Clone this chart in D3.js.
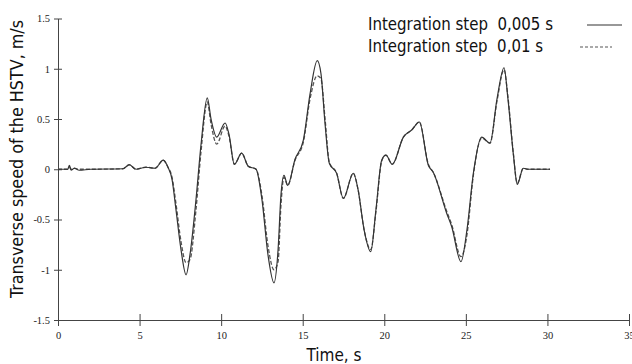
<!DOCTYPE html>
<html>
<head>
<meta charset="utf-8">
<script src="https://cdn.jsdelivr.net/npm/d3@7"></script>
<style>
  body { margin: 0; background: #fff; }
  .tick text { font-family: "Liberation Serif", "DejaVu Serif", serif; font-size: 10.5px; fill: #222; }
  .ttl { font-family: "DejaVu Sans Condensed", "Liberation Sans Narrow", "Roboto", sans-serif; fill: #111; white-space: pre; }
</style>
</head>
<body>
<svg class="chart" width="632" height="364"></svg>
<script>
// time, s
const time = [0, 0.6, 0.7, 0.8, 1.0, 1.3, 2.0, 3.98, 4.37, 4.78, 5.39, 5.95, 6.45, 6.74, 6.99, 7.23, 7.54, 7.85, 8.09, 8.46, 8.77, 9.15, 9.38, 9.73, 10.24, 10.48, 10.81, 11.26, 11.66, 12.14, 12.5, 12.87, 13.24, 13.49, 13.67, 13.85, 14.08, 14.53, 15.04, 15.45, 15.89, 16.12, 16.37, 16.63, 17.08, 17.49, 18.1, 18.39, 18.76, 19.17, 19.49, 19.84, 20.1, 20.49, 21.17, 21.68, 22.15, 22.7, 23.0, 23.83, 24.13, 24.7, 25.07, 25.46, 25.97, 26.48, 26.91, 27.34, 27.58, 27.91, 28.15, 28.52, 28.8, 30.16];
// transverse speed, integration step 0,005 s
const speedFine = [0, 0, 0.04, -0.01, 0.01, -0.01, 0, 0.005, 0.045, 0.0, 0.02, 0.01, 0.09, 0.02, -0.1, -0.4, -0.8, -1.05, -0.85, -0.3, 0.25, 0.71, 0.5, 0.32, 0.46, 0.35, 0.05, 0.16, 0.03, 0.0, -0.3, -0.85, -1.13, -0.8, -0.25, -0.06, -0.16, 0.1, 0.29, 0.75, 1.08, 0.95, 0.45, 0.06, -0.04, -0.29, -0.04, -0.2, -0.6, -0.82, -0.4, 0.09, 0.14, 0.05, 0.32, 0.39, 0.47, 0.04, -0.03, -0.44, -0.57, -0.92, -0.6, -0.04, 0.32, 0.26, 0.7, 1.01, 0.7, 0.15, -0.15, 0.01, 0.0, 0.0];
// transverse speed, integration step 0,01 s
const speedCoarse = [0, 0, 0.02, 0.0, 0.01, 0.0, 0, 0.005, 0.045, 0.0, 0.02, 0.01, 0.09, 0.02, -0.08, -0.34, -0.72, -0.93, -0.9, -0.4, 0.18, 0.67, 0.45, 0.25, 0.43, 0.33, 0.05, 0.16, 0.03, 0.0, -0.26, -0.76, -1.0, -0.92, -0.35, -0.08, -0.16, 0.09, 0.27, 0.7, 0.93, 0.9, 0.5, 0.07, -0.04, -0.29, -0.04, -0.2, -0.6, -0.8, -0.42, 0.08, 0.14, 0.05, 0.32, 0.39, 0.47, 0.05, -0.03, -0.42, -0.55, -0.87, -0.65, -0.06, 0.31, 0.26, 0.68, 0.99, 0.72, 0.16, -0.14, 0.01, 0.0, 0.0];
const xTicks = [0, 5, 10, 15, 20, 25, 30, 35];
const yTicks = [-1.5, -1, -0.5, 0, 0.5, 1, 1.5];
const legendLabels = ['Integration step  0,005 s', 'Integration step  0,01 s'];

const svg = d3.select('.chart');
const margin = {left: 58, right: 3, top: 18.5, bottom: 44};
const width = 632, height = 364;

const xScale = d3.scaleLinear().domain([0, 35]).range([margin.left, width - margin.right]);
const yScale = d3.scaleLinear().domain([-1.5, 1.5]).range([height - margin.bottom, margin.top]);

const xAxis = svg.append('g')
    .attr('transform', `translate(0,${yScale(-1.5)})`)
    .call(d3.axisBottom(xScale).tickValues(xTicks).tickFormat(d3.format('d')).tickSize(6).tickSizeOuter(0));
xAxis.selectAll('.tick line').attr('y1', -6).attr('y2', 6);
xAxis.selectAll('.tick text').attr('y', 12);

const yAxis = svg.append('g')
    .attr('transform', `translate(${xScale(0)},0)`)
    .call(d3.axisLeft(yScale).tickValues(yTicks).tickFormat(d => d).tickSize(4).tickSizeOuter(0));
yAxis.selectAll('.tick line').attr('x1', -4).attr('x2', 4);
yAxis.selectAll('.tick text').attr('x', -8);

svg.selectAll('.domain, .tick line').attr('stroke', '#444').attr('stroke-width', 1);

const line = (vals) => d3.line()
    .x((d, i) => xScale(time[i]))
    .y(d => yScale(d))
    .curve(d3.curveMonotoneX)(vals);

svg.append('path')
    .attr('d', line(speedCoarse))
    .style('fill', 'none')
    .style('stroke', '#555')
    .style('stroke-width', 1.3)
    .style('stroke-dasharray', '4,2');

svg.append('path')
    .attr('d', line(speedFine))
    .style('fill', 'none')
    .style('stroke', '#333')
    .style('stroke-width', 1.2);

// axis titles
svg.append('text').classed('ttl', true)
    .attr('transform', 'translate(23,159) rotate(-90)')
    .attr('text-anchor', 'middle')
    .attr('textLength', 278).attr('lengthAdjust', 'spacingAndGlyphs')
    .style('font-size', '17px')
    .text('Transverse speed of the HSTV, m/s');

svg.append('text').classed('ttl', true)
    .attr('x', 334).attr('y', 361)
    .attr('text-anchor', 'middle')
    .style('font-size', '17px')
    .text('Time, s');

// legend
const legend = svg.append('g');
legendLabels.forEach((lbl, i) => {
    const y = 30 + i * 22;
    legend.append('text').classed('ttl', true)
        .attr('x', 368).attr('y', y)
        .attr('textLength', i === 0 ? 185 : 175).attr('lengthAdjust', 'spacingAndGlyphs')
        .style('font-size', '17px')
        .text(lbl);
    legend.append('line')
        .attr('x1', i === 0 ? 587 : 580).attr('x2', i === 0 ? 622 : 612)
        .attr('y1', y - 5).attr('y2', y - 5)
        .style('stroke', i === 0 ? '#333' : '#555')
        .style('stroke-width', 1.2)
        .style('stroke-dasharray', i === 0 ? null : '3,2');
});
</script>
</body>
</html>
